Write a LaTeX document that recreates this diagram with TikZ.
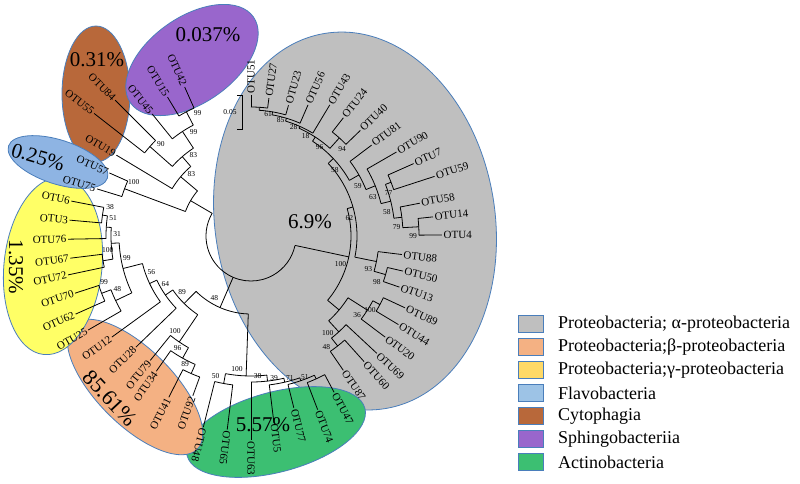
\documentclass[tikz,border=0pt]{standalone}
\usepackage{fontspec}
\setmainfont{Liberation Serif}
\definecolor{cgray}{HTML}{BFBFBF}
\definecolor{corange}{HTML}{F4B183}
\definecolor{cyellow}{HTML}{FFFF66}
\definecolor{cyellowL}{HTML}{FFD966}
\definecolor{cblue}{HTML}{8EB4E3}
\definecolor{cblueL}{HTML}{9DC3E6}
\definecolor{cbrown}{HTML}{B8683A}
\definecolor{cpurple}{HTML}{9966CC}
\definecolor{cgreen}{HTML}{3CBF72}
\definecolor{cedge}{HTML}{4A7EBB}
\newcounter{bsc}
\tikzset{
  br/.style={line width=0.8pt, black},
  otu/.style={font=\fontsize{11}{11}\selectfont, inner sep=1.5pt},
  bsl/.style={font=\fontsize{7.5}{7.5}\selectfont, inner sep=0.5pt},
  ell/.style={draw=cedge, line width=0.8pt},
  pct/.style={font=\fontsize{21}{21}\selectfont, inner sep=0pt},
  leg/.style={font=\fontsize{18}{18}\selectfont, anchor=west, inner sep=0pt},
  legbox/.style={draw=cedge, line width=1pt, minimum width=25pt, minimum height=17pt, inner sep=0pt},
}
\newcommand{\tipR}[4]{\draw[br] (#1:#2) -- (#1:#3); \node[otu, anchor=west, rotate=#1] (t#4) at (#1:#3) {OTU#4};}
\newcommand{\tipL}[4]{\draw[br] (#1:#2) -- (#1:#3); \node[otu, anchor=east, rotate=#1-180] (t#4) at (#1:#3) {OTU#4};}
\newcommand{\inode}[6]{\draw[br] (#1:#2) -- (#1:#3); \draw[br] (#4:#3) arc[start angle=#4, end angle=#5, radius=#3pt]; \stepcounter{bsc}\node[bsl] (bs\thebsc) at ({#1-560/#3}:{#3-6}) {#6};}
\begin{document}
\begin{tikzpicture}[x=1pt,y=1pt]
\useasboundingbox (0,0) rectangle (800,-483);
\fill[white] (0,0) rectangle (800,-483);
% clade ellipses
\draw[ell, fill=cgray, rotate around={9:(355,-221)}] (355,-221) ellipse (140pt and 190pt);
\draw[ell, fill=cgreen, rotate around={15:(276,-432)}] (276,-432) ellipse (92pt and 40pt);
\draw[ell, fill=corange, rotate around={-45:(135,-387)}] (135,-387) ellipse (88pt and 38pt);
\draw[ell, fill=cyellow, rotate around={-6:(53,-266)}] (53,-266) ellipse (49pt and 89pt);
\draw[ell, fill=cbrown] (96,-94) ellipse (34pt and 68pt);
\draw[ell, fill=cblue, rotate around={-18:(58,-162)}] (58,-162) ellipse (52pt and 22pt);
\draw[ell, fill=cpurple, rotate around={35:(192,-60)}] (192,-60) ellipse (75pt and 43pt);
% scale bar
\draw[br] (237,-95) -- (242,-95) -- (242,-129) -- (237,-129);
\node[bsl] (sb) at (230,-112) {0.05};
\begin{scope}[shift={(251,-236)}]
% root
\draw[br] (149.7:45) arc[start angle=149.7, end angle=347.5, radius=45pt];
% upper left group
\inode{149.7}{45}{70}{499.9}{519.5}{}
\inode{499.9}{70}{92}{490.9}{509}{83}
\tipL{509}{92}{157}{19}
\inode{490.9}{92}{105}{483.25}{498.5}{83}
\inode{483.25}{105}{125}{477.5}{489}{99}
\inode{477.5}{125}{140}{474}{481}{99}
\tipL{474}{140}{163}{42}
\tipL{481}{140}{162}{15}
\tipL{489}{125}{157}{45}
\inode{498.5}{105}{135}{495}{502}{90}
\tipL{495}{135}{192}{84}
\tipL{502}{135}{199}{55}
\inode{519.5}{70}{135}{516}{523}{100}
\tipL{516}{135}{155}{57}
\tipL{523}{135}{161}{75}
% beta / gamma / actino
\inode{246.6}{45}{78}{225.25}{268}{48}
\inode{225.25}{78}{95}{214.6}{235.9}{89}
\inode{214.6}{95}{104}{205.1}{224}{64}
\inode{205.1}{104}{112}{194.25}{216}{56}
\inode{194.25}{112}{132}{183}{205.5}{99}
\inode{183}{132}{140}{176.5}{189.5}{31}
\inode{176.5}{140}{145}{172}{181}{51}
\inode{172}{145}{150}{169}{175}{38}
\tipL{169}{150}{183}{6}
\tipL{175}{150}{182}{3}
\tipL{181}{145}{183}{76}
\inode{189.5}{140}{150}{187}{192}{100}
\tipL{187}{150}{182}{67}
\tipL{192}{150}{187}{72}
\inode{205.5}{132}{150}{201}{210}{48}
\inode{201}{150}{160}{198}{204}{99}
\tipL{198}{160}{185}{70}
\tipL{204}{160}{192}{62}
\tipL{210}{150}{188}{25}
\tipL{216}{112}{172}{12}
\tipL{224}{104}{160}{28}
\inode{235.9}{95}{128}{231}{240.75}{100}
\tipL{231}{128}{160}{79}
\inode{240.75}{128}{140}{235}{246.5}{96}
\tipL{235}{140}{165}{34}
\inode{246.5}{140}{150}{243}{250}{89}
\tipL{243}{150}{181}{41}
\tipL{250}{150}{170}{92}
\inode{268}{78}{140}{259.5}{276.5}{100}
\inode{259.5}{140}{150}{256}{263}{50}
\tipR{256}{150}{197}{48}
\tipR{263}{150}{195}{65}
\inode{276.5}{140}{146}{270}{283}{38}
\tipR{270}{146}{204}{63}
\inode{283}{146}{150}{277}{289}{39}
\tipR{277}{150}{188}{5}
\inode{289}{150}{153}{284}{294.5}{71}
\tipR{284}{153}{177}{77}
\inode{294.5}{153}{157}{291}{298}{51}
\tipR{291}{157}{186}{74}
\tipR{298}{157}{177}{47}
% alpha
\inode{347.95}{45}{100}{320}{375.9}{100}
\inode{320}{100}{115}{312.5}{327.5}{}
\inode{312.5}{115}{130}{308.25}{317}{100}
\tipR{317}{130}{172}{69}
\inode{308.25}{130}{140}{304.5}{312}{48}
\tipR{312}{140}{169}{60}
\tipR{304.5}{140}{163}{87}
\inode{327.5}{115}{138}{323}{332}{36}
\tipR{323}{138}{168}{20}
\inode{332}{138}{146}{329}{335}{100}
\tipR{329}{146}{172}{44}
\tipR{335}{146}{170}{89}
\inode{375.9}{100}{106}{348.5}{403.25}{62}
\inode{348.5}{106}{128}{344}{353}{93}
\tipR{353}{128}{152}{88}
\inode{344}{128}{140}{341}{347}{98}
\tipR{347}{140}{156}{50}
\tipR{341}{140}{157}{13}
\inode{403.25}{106}{113}{389.5}{417}{58}
\inode{389.5}{113}{124}{382}{397}{59}
\tipR{397}{124}{151}{81}
\inode{382}{124}{134}{374}{390}{63}
\tipR{390}{134}{168}{90}
\inode{374}{134}{144}{367.1}{381}{58}
\inode{381}{144}{150}{378}{384}{77}
\tipR{378}{150}{193}{59}
\tipR{384}{150}{178}{7}
\inode{367.1}{144}{152}{363.15}{371}{79}
\tipR{371}{152}{172}{58}
\inode{363.15}{152}{168}{360.3}{366}{99}
\tipR{360.3}{168}{191}{4}
\tipR{366}{168}{183}{14}
\inode{417}{113}{118}{408}{426}{96}
\inode{408}{118}{132}{404}{412}{94}
\tipR{404}{132}{152}{40}
\tipR{412}{132}{150}{24}
\inode{426}{118}{120}{419}{433.25}{18}
\tipR{419}{120}{153}{43}
\inode{433.25}{120}{123}{426.5}{440.15}{28}
\tipR{426.5}{123}{143}{56}
\inode{440.15}{123}{126}{434}{446.3}{85}
\tipR{434}{126}{136}{23}
\inode{446.3}{126}{129}{442.6}{450}{61}
\tipR{442.6}{129}{139}{27}
\tipR{450}{129}{141}{51}
\end{scope}
% percentages
\node[pct] (p1) at (310,-222) {6.9\%};
\node[pct] (p2) at (208,-35) {0.037\%};
\node[pct] (p3) at (97,-60) {0.31\%};
\node[pct, rotate=-16] (p4) at (38,-157) {0.25\%};
\node[pct, rotate=-90] (p5) at (16,-267) {1.35\%};
\node[pct, rotate=-47, font=\fontsize{22}{22}\selectfont] (p6) at (110,-398) {85.61\%};
\node[pct] (p7) at (263,-425) {5.57\%};
% legend
\node[legbox, fill=cgray] (k1) at (530.5,-324) {};
\node[legbox, fill=corange] (k2) at (530.5,-347) {};
\node[legbox, fill=cyellowL] (k3) at (530.5,-370) {};
\node[legbox, fill=cblueL] (k4) at (530.5,-393) {};
\node[legbox, fill=cbrown] (k5) at (530.5,-416) {};
\node[legbox, fill=cpurple] (k6) at (530.5,-439) {};
\node[legbox, fill=cgreen] (k7) at (530.5,-462) {};
\node[leg] (l1) at (558,-324) {Proteobacteria; α-proteobacteria};
\node[leg] (l2) at (558,-347) {Proteobacteria;β-proteobacteria};
\node[leg] (l3) at (558,-370) {Proteobacteria;γ-proteobacteria};
\node[leg] (l4) at (558,-393) {Flavobacteria};
\node[leg] (l5) at (558,-416) {Cytophagia};
\node[leg] (l6) at (558,-439) {Sphingobacteriia};
\node[leg] (l7) at (558,-462) {Actinobacteria};
\end{tikzpicture}
\end{document}
